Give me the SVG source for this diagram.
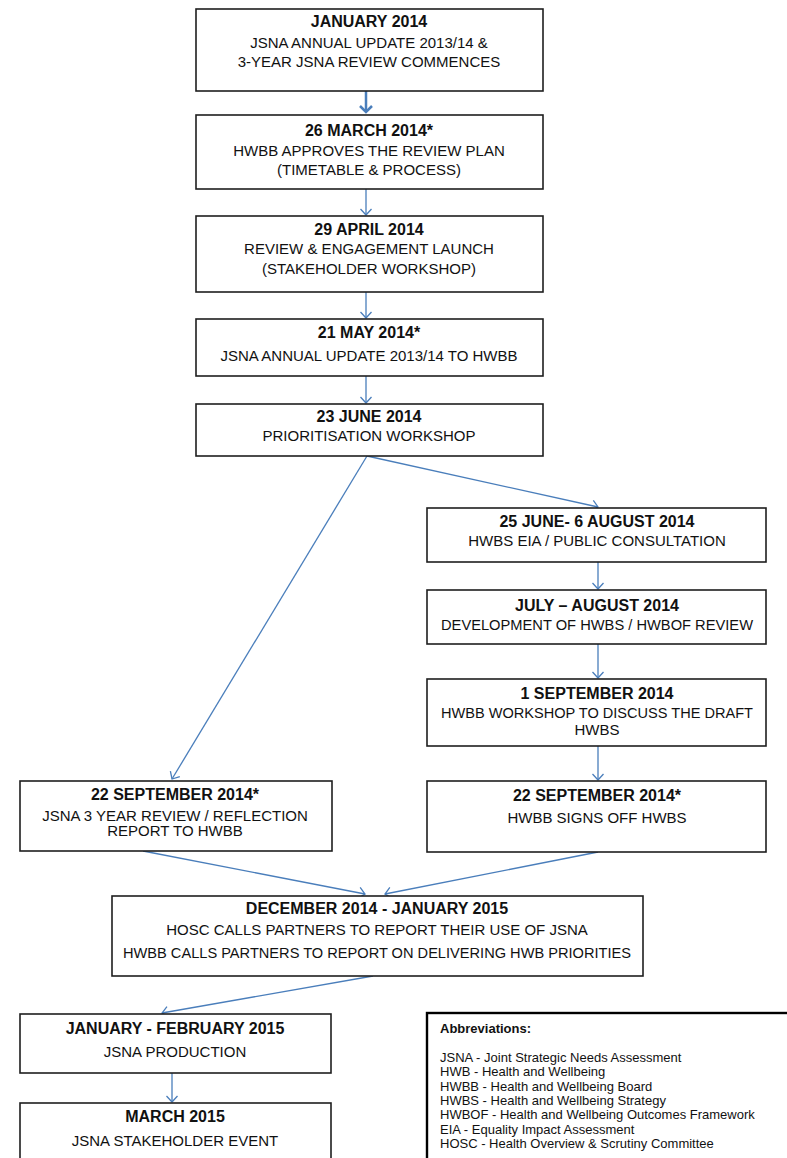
<svg xmlns="http://www.w3.org/2000/svg" width="787" height="1158" viewBox="0 0 787 1158">
<style>
.box{fill:#fff;stroke:#1e1e1e;stroke-width:1.6}
.abox{fill:#fff;stroke:#000;stroke-width:2.4}
.t{font-family:"Liberation Sans",Arial,sans-serif;font-weight:bold;font-size:16px;fill:#111;text-anchor:middle}
.b{font-family:"Liberation Sans",Arial,sans-serif;font-size:15px;fill:#111;text-anchor:middle}
.ab{font-family:"Liberation Sans",Arial,sans-serif;font-size:13px;fill:#111}
.abt{font-family:"Liberation Sans",Arial,sans-serif;font-size:13px;font-weight:bold;fill:#111}
.c{fill:none;stroke:#4a7ebb;stroke-width:1.3}
.c2{fill:none;stroke:#4a7ebb;stroke-width:2.5}
</style>
<defs>
<marker id="ah" viewBox="-8 -7 10 14" markerWidth="10" markerHeight="14" refX="0" refY="0" orient="auto" markerUnits="userSpaceOnUse">
<path d="M-6,-5.5 L0,0 L-6,5.5" fill="none" stroke="#4a7ebb" stroke-width="1.3"/>
</marker>
<marker id="ah2" viewBox="-9 -8 11 16" markerWidth="11" markerHeight="16" refX="0" refY="0" orient="auto" markerUnits="userSpaceOnUse">
<path d="M-6,-6 L0,0 L-6,6" fill="none" stroke="#4a7ebb" stroke-width="2.5"/>
</marker>
</defs>
<rect width="787" height="1158" fill="#fff"/>
<g id="connectors">
<line class="c2" x1="366" y1="91" x2="366" y2="112" marker-end="url(#ah2)"/>
<line class="c" x1="366" y1="189" x2="366" y2="215" marker-end="url(#ah)"/>
<line class="c" x1="366" y1="292" x2="366" y2="318" marker-end="url(#ah)"/>
<line class="c" x1="366" y1="376" x2="366" y2="403" marker-end="url(#ah)"/>
<line class="c" x1="367" y1="456" x2="172" y2="779" marker-end="url(#ah)"/>
<line class="c" x1="367" y1="456" x2="598" y2="507" marker-end="url(#ah)"/>
<line class="c" x1="598" y1="562" x2="598" y2="589" marker-end="url(#ah)"/>
<line class="c" x1="598" y1="644" x2="598" y2="678" marker-end="url(#ah)"/>
<line class="c" x1="598" y1="746" x2="598" y2="780" marker-end="url(#ah)"/>
<line class="c" x1="143" y1="851" x2="365" y2="894" marker-end="url(#ah)"/>
<line class="c" x1="598" y1="852" x2="385" y2="894" marker-end="url(#ah)"/>
<line class="c" x1="373" y1="976" x2="162" y2="1013" marker-end="url(#ah)"/>
<line class="c" x1="172" y1="1073" x2="172" y2="1102" marker-end="url(#ah)"/>
</g>
<g id="n1">
<rect class="box" x="196" y="9" width="347" height="82"/>
<text class="t" x="369" y="27">JANUARY 2014</text>
<text class="b" x="369" y="48">JSNA ANNUAL UPDATE 2013/14 &amp;</text>
<text class="b" x="369" y="67">3-YEAR JSNA REVIEW COMMENCES</text>
</g>
<g id="n2">
<rect class="box" x="196" y="115" width="347" height="74"/>
<text class="t" x="369" y="136">26 MARCH 2014*</text>
<text class="b" x="369" y="156">HWBB APPROVES THE REVIEW PLAN</text>
<text class="b" x="369" y="175">(TIMETABLE &amp; PROCESS)</text>
</g>
<g id="n3">
<rect class="box" x="196" y="216" width="347" height="76"/>
<text class="t" x="369" y="235">29 APRIL 2014</text>
<text class="b" x="369" y="254">REVIEW &amp; ENGAGEMENT LAUNCH</text>
<text class="b" x="369" y="274">(STAKEHOLDER WORKSHOP)</text>
</g>
<g id="n4">
<rect class="box" x="196" y="319" width="347" height="57"/>
<text class="t" x="369" y="338">21 MAY 2014*</text>
<text class="b" x="369" y="361">JSNA ANNUAL UPDATE 2013/14 TO HWBB</text>
</g>
<g id="n5">
<rect class="box" x="196" y="404" width="347" height="52"/>
<text class="t" x="369" y="422">23 JUNE 2014</text>
<text class="b" x="369" y="441">PRIORITISATION WORKSHOP</text>
</g>
<g id="n6">
<rect class="box" x="427" y="508" width="339" height="54"/>
<text class="t" x="597" y="527">25 JUNE- 6 AUGUST 2014</text>
<text class="b" x="597" y="546">HWBS EIA / PUBLIC CONSULTATION</text>
</g>
<g id="n7">
<rect class="box" x="427" y="590" width="339" height="54"/>
<text class="t" x="597" y="611">JULY – AUGUST 2014</text>
<text class="b" x="597" y="630" textLength="312" lengthAdjust="spacingAndGlyphs">DEVELOPMENT OF HWBS / HWBOF REVIEW</text>
</g>
<g id="n8">
<rect class="box" x="427" y="679" width="339" height="67"/>
<text class="t" x="597" y="699">1 SEPTEMBER 2014</text>
<text class="b" x="597" y="718" textLength="312" lengthAdjust="spacingAndGlyphs">HWBB WORKSHOP TO DISCUSS THE DRAFT</text>
<text class="b" x="597" y="735">HWBS</text>
</g>
<g id="n9">
<rect class="box" x="427" y="781" width="339" height="71"/>
<text class="t" x="597" y="801">22 SEPTEMBER 2014*</text>
<text class="b" x="597" y="823">HWBB SIGNS OFF HWBS</text>
</g>
<g id="n10">
<rect class="box" x="20" y="781" width="312" height="70"/>
<text class="t" x="175" y="800">22 SEPTEMBER 2014*</text>
<text class="b" x="175" y="821">JSNA 3 YEAR REVIEW / REFLECTION</text>
<text class="b" x="175" y="836">REPORT TO HWBB</text>
</g>
<g id="n11">
<rect class="box" x="112" y="896" width="531" height="80"/>
<text class="t" x="377" y="914">DECEMBER 2014 - JANUARY 2015</text>
<text class="b" x="377" y="935">HOSC CALLS PARTNERS TO REPORT THEIR USE OF JSNA</text>
<text class="b" x="377" y="958" textLength="508" lengthAdjust="spacingAndGlyphs">HWBB CALLS PARTNERS TO REPORT ON DELIVERING HWB PRIORITIES</text>
</g>
<g id="n12">
<rect class="box" x="20" y="1014" width="311" height="59"/>
<text class="t" x="175" y="1034">JANUARY - FEBRUARY 2015</text>
<text class="b" x="175" y="1057">JSNA PRODUCTION</text>
</g>
<g id="n13">
<rect class="box" x="20" y="1103" width="311" height="70"/>
<text class="t" x="175" y="1122">MARCH 2015</text>
<text class="b" x="175" y="1146">JSNA STAKEHOLDER EVENT</text>
</g>
<g id="abbreviations">
<rect class="abox" x="427" y="1013" width="380" height="170"/>
<text class="abt" x="440" y="1033">Abbreviations:</text>
<text class="ab" x="440" y="1062">JSNA - Joint Strategic Needs Assessment</text>
<text class="ab" x="440" y="1076">HWB - Health and Wellbeing</text>
<text class="ab" x="440" y="1090.5">HWBB - Health and Wellbeing Board</text>
<text class="ab" x="440" y="1105">HWBS - Health and Wellbeing Strategy</text>
<text class="ab" x="440" y="1119">HWBOF - Health and Wellbeing Outcomes Framework</text>
<text class="ab" x="440" y="1133.5">EIA - Equality Impact Assessment</text>
<text class="ab" x="440" y="1148">HOSC - Health Overview &amp; Scrutiny Committee</text>
</g>
</svg>
